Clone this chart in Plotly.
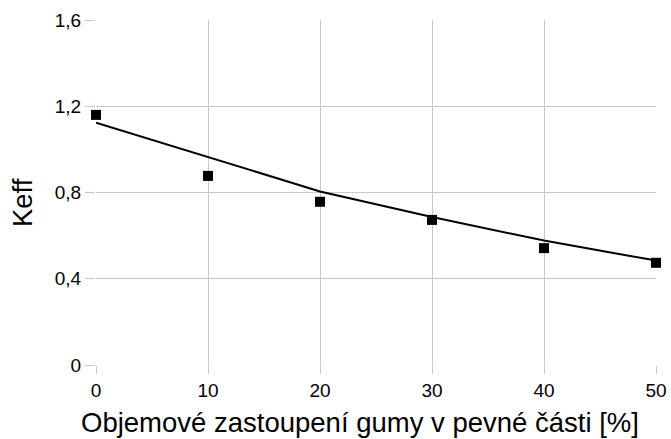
import plotly.graph_objects as go

# measured points
x_vals = [0, 10, 20, 30, 40, 50]
keff_vals = [1.16, 0.877, 0.757, 0.673, 0.542, 0.474]

# trend line
trend_x = [0, 10, 20, 30, 40, 50]
trend_y = [1.124, 0.963, 0.805, 0.686, 0.577, 0.484]

x_ticks = [0, 10, 20, 30, 40, 50]
y_ticks = [0, 0.4, 0.8, 1.2, 1.6]
y_tick_labels = ["0", "0,4", "0,8", "1,2", "1,6"]

x_title = "Objemové zastoupení gumy v pevné části [%]"
y_title = "Keff"

fig = go.Figure()
fig.add_trace(go.Scatter(x=trend_x, y=trend_y, mode="lines",
                         line=dict(color="black", width=2),
                         showlegend=False, hoverinfo="skip", cliponaxis=False))
fig.add_trace(go.Scatter(x=x_vals, y=keff_vals, mode="markers",
                         marker=dict(symbol="square", size=10, color="black"),
                         showlegend=False, cliponaxis=False))

font_family = "Liberation Sans, Arial, sans-serif"
grid = "#c8c8c8"
fig.update_layout(
    width=671, height=439,
    margin=dict(l=96, r=15, t=20, b=74),
    paper_bgcolor="white", plot_bgcolor="white",
    font=dict(family=font_family, color="black", size=19),
    xaxis=dict(range=[0, 50], tickvals=x_ticks, ticktext=[str(v) for v in x_ticks],
               showgrid=True, gridcolor=grid, gridwidth=1, zeroline=False,
               showline=False, ticks="outside", ticklen=8, tickcolor=grid,
               tickfont=dict(size=19), automargin=False),
    yaxis=dict(range=[0, 1.6], tickvals=y_ticks, ticktext=y_tick_labels,
               showgrid=True, gridcolor=grid, gridwidth=1, zeroline=False,
               showline=False, ticks="outside", ticklen=10, tickcolor=grid,
               tickfont=dict(size=19), automargin=False),
    annotations=[
        dict(text=x_title, xref="paper", yref="paper", x=0.471, y=-0.168,
             xanchor="center", yanchor="middle", showarrow=False,
             font=dict(size=27.5)),
        dict(text=y_title, xref="paper", yref="paper", x=-0.130, y=0.47,
             xanchor="center", yanchor="middle", showarrow=False, textangle=-90,
             font=dict(size=27.5)),
    ],
)
fig.write_html("out.html", config={"displayModeBar": False},
               post_script="document.body.style.margin='0';document.body.style.padding='0';")
